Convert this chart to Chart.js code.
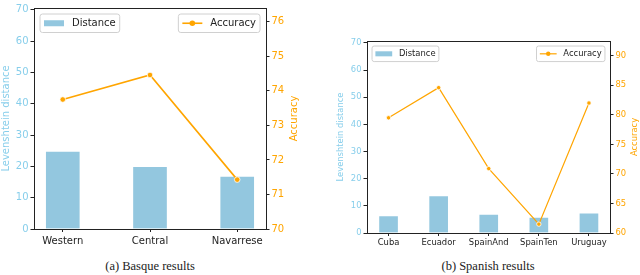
<!DOCTYPE html>
<html>
<head>
<meta charset="utf-8">
<script src="https://cdn.jsdelivr.net/npm/chart.js@4.4.1/dist/chart.umd.min.js"></script>
<style>
  body { margin: 0; width: 640px; height: 275px; background: #fff; position: relative; overflow: hidden; }
  .box { position: absolute; top: 0; width: 320px; height: 250px; }
  .cap { position: absolute; top: 259px; font-family: "Liberation Serif", serif; font-size: 12.5px; color: #222; transform: translateX(-50%); white-space: nowrap; }
</style>
</head>
<body>
<div class="box" style="left:0"><canvas id="basque"></canvas></div>
<div class="box" style="left:320px"><canvas id="spanish"></canvas></div>
<div class="cap" style="left:150px">(a) Basque results</div>
<div class="cap" style="left:488px">(b) Spanish results</div>
<script>
const basqueLabels = ["Western", "Central", "Navarrese"];
const basqueDistance = [24.9, 20.0, 16.9];
const basqueAccuracy = [73.75, 74.46, 71.43];

const spanishLabels = ["Cuba", "Ecuador", "SpainAnd", "SpainTen", "Uruguay"];
const spanishDistance = [6.4, 13.8, 7.0, 5.9, 7.4];
const spanishAccuracy = [79.5, 84.6, 70.9, 61.5, 82.0];

const BLUE = "#93c7df";
const BLUE_TEXT = "#87ceeb";
const ORANGE = "#ffa500";
const DARK = "#222";

// box around the plot, right axis title (bottom-to-top) and legends inside the plot
const frameAndLegend = {
  id: "frameAndLegend",
  afterDatasetsDraw(chart, args, opts) {
    const { ctx, chartArea: a } = chart;
    const fs = opts.fontSize;
    ctx.save();
    ctx.strokeStyle = DARK;
    ctx.lineWidth = 1;
    ctx.strokeRect(Math.round(a.left) + 0.5, Math.round(a.top) + 0.5,
      Math.round(a.right - a.left), Math.round(a.bottom - a.top));

    ctx.font = fs + "px 'DejaVu Sans'";

    // right axis title
    ctx.save();
    ctx.translate(opts.rightTitleX, (a.top + a.bottom) / 2);
    ctx.rotate(-Math.PI / 2);
    ctx.fillStyle = ORANGE;
    ctx.textAlign = "center";
    ctx.textBaseline = "middle";
    ctx.fillText("Accuracy", 0, 0);
    ctx.restore();

    const h = 1.85 * fs, pad = 0.4 * fs, hl = 2 * fs, gap = 0.8 * fs, off = 0.6 * fs;
    const top = a.top + off;
    chart.data.datasets.forEach((ds) => {
      const tw = ctx.measureText(ds.label).width;
      const w = pad + hl + gap + tw + pad;
      const x = ds.type === "bar" ? a.left + off : a.right - off - w;
      const cy = top + h / 2;
      ctx.beginPath();
      ctx.roundRect(x, top, w, h, 0.25 * fs);
      ctx.fillStyle = "rgba(255,255,255,0.8)";
      ctx.fill();
      ctx.strokeStyle = "#d0d0d0";
      ctx.lineWidth = 1;
      ctx.stroke();
      if (ds.type === "bar") {
        ctx.fillStyle = BLUE;
        ctx.fillRect(x + pad, cy - 0.3 * fs, hl, 0.6 * fs);
      } else {
        ctx.strokeStyle = ORANGE;
        ctx.lineWidth = opts.lineWidth;
        ctx.beginPath();
        ctx.moveTo(x + pad, cy);
        ctx.lineTo(x + pad + hl, cy);
        ctx.stroke();
        ctx.fillStyle = ORANGE;
        ctx.beginPath();
        ctx.arc(x + pad + hl / 2, cy, opts.pointRadius, 0, Math.PI * 2);
        ctx.fill();
      }
      ctx.fillStyle = DARK;
      ctx.textAlign = "left";
      ctx.textBaseline = "middle";
      ctx.fillText(ds.label, x + pad + hl + gap, cy + 0.5);
    });
    ctx.restore();
  },
};

function makeChart(id, cfg) {
  const fs = cfg.fontSize;
  const ctx = document.getElementById(id);
  return new Chart(ctx, {
    data: {
      datasets: [
        {
          type: "line",
          label: "Accuracy",
          data: cfg.labels.map((l, i) => ({ x: i, y: cfg.accuracy[i] })),
          yAxisID: "y1",
          borderColor: ORANGE,
          borderWidth: cfg.lineWidth,
          pointRadius: cfg.pointRadius,
          pointBackgroundColor: ORANGE,
          pointBorderColor: "#fff",
          pointBorderWidth: 0.8,
          order: 0,
        },
        {
          type: "bar",
          label: "Distance",
          data: cfg.labels.map((l, i) => ({ x: i, y: cfg.distance[i] })),
          yAxisID: "y",
          backgroundColor: BLUE,
          borderColor: "rgba(255,255,255,0.7)",
          borderWidth: 1,
          barThickness: cfg.barThickness,
          order: 1,
        },
      ],
    },
    options: {
      responsive: true,
      maintainAspectRatio: false,
      animation: false,
      layout: { padding: cfg.padding },
      plugins: {
        legend: { display: false },
        tooltip: { enabled: false },
        frameAndLegend: {
          fontSize: fs,
          lineWidth: cfg.lineWidth,
          pointRadius: cfg.pointRadius,
          rightTitleX: cfg.rightTitleX,
        },
      },
      scales: {
        x: {
          type: "linear",
          offset: false,
          min: cfg.xMin,
          max: cfg.xMax,
          afterBuildTicks: (s) => { s.ticks = cfg.labels.map((l, i) => ({ value: i })); },
          afterFit: (s) => { s.height = cfg.xHeight; },
          ticks: {
            callback: (v, i) => cfg.labels[i],
            color: DARK,
            font: { family: "DejaVu Sans", size: fs },
            maxRotation: 0,
            autoSkip: false,
            padding: cfg.xPad,
          },
          grid: { offset: false, drawOnChartArea: false, color: DARK, tickLength: 3 },
          border: { display: false },
        },
        y: {
          position: "left",
          min: 0,
          max: cfg.distMax,
          afterFit: (s) => { s.width = cfg.leftWidth; },
          ticks: {
            stepSize: 10,
            includeBounds: false,
            color: BLUE_TEXT,
            font: { family: "DejaVu Sans", size: fs },
            padding: 2,
          },
          title: {
            display: true,
            text: "Levenshtein distance",
            color: BLUE_TEXT,
            font: { family: "DejaVu Sans", size: fs },
            padding: 0,
          },
          grid: { drawOnChartArea: false, color: DARK, tickLength: 3.5 },
          border: { display: false },
        },
        y1: {
          position: "right",
          min: cfg.accMin,
          max: cfg.accMax,
          afterFit: (s) => { s.width = cfg.rightWidth; },
          ticks: {
            stepSize: cfg.accStep,
            includeBounds: false,
            color: ORANGE,
            font: { family: "DejaVu Sans", size: fs },
            padding: 2,
          },
          grid: { drawOnChartArea: false, color: DARK, tickLength: 3.5 },
          border: { display: false },
        },
      },
    },
    plugins: [frameAndLegend],
  });
}

makeChart("basque", {
  labels: basqueLabels,
  distance: basqueDistance,
  accuracy: basqueAccuracy,
  fontSize: 10,
  lineWidth: 1.6,
  pointRadius: 2.8,
  barThickness: 35,
  xMin: -0.33,
  xMax: 2.33,
  distMax: 70.6,
  accMin: 70,
  accMax: 76.4,
  accStep: 1,
  padding: { top: 3, left: 0, right: 20, bottom: 0 },
  leftWidth: 34,
  rightWidth: 34,
  rightTitleX: 294,
  xHeight: 21,
  xPad: 3,
});

makeChart("spanish", {
  labels: spanishLabels,
  distance: spanishDistance,
  accuracy: spanishAccuracy,
  fontSize: 8.4,
  lineWidth: 1.2,
  pointRadius: 2.2,
  barThickness: 20,
  xMin: -0.43,
  xMax: 4.42,
  distMax: 70.7,
  accMin: 60,
  accMax: 92.5,
  accStep: 5,
  padding: { top: 41, left: 16, right: 0, bottom: 0 },
  leftWidth: 31,
  rightWidth: 30,
  rightTitleX: 315,
  xHeight: 17,
  xPad: 2,
});
</script>
</body>
</html>
